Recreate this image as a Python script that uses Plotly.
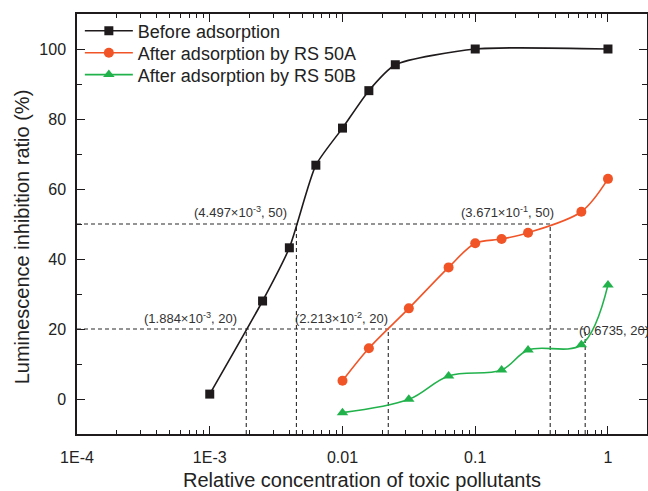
import plotly.graph_objects as go

# ---- data ----
x_before = [0.001, 0.0025, 0.00398, 0.0063, 0.01, 0.0158, 0.025, 0.1, 1.0]
y_before = [1.4, 28.0, 43.2, 66.8, 77.4, 88.1, 95.5, 100.0, 100.0]

x_rs50a = [0.01, 0.0158, 0.0316, 0.063, 0.1, 0.158, 0.25, 0.63, 1.0]
y_rs50a = [5.2, 14.5, 25.9, 37.6, 44.5, 45.7, 47.5, 53.5, 62.9]

x_rs50b = [0.01, 0.0316, 0.063, 0.158, 0.25, 0.63, 1.0]
y_rs50b = [-3.9, -0.1, 6.6, 8.3, 14.0, 15.5, 32.6]

# reference (dashed) points
ref50_x = [4.497e-3, 0.3671]
ref20_x = [1.884e-3, 2.213e-2, 0.6735]
ref_labels_50 = ["(4.497×10<sup>-3</sup>, 50)", "(3.671×10<sup>-1</sup>, 50)"]
ref_labels_20 = ["(1.884×10<sup>-3</sup>, 20)", "(2.213×10<sup>-2</sup>, 20)", "(0.6735, 20)"]

x_tickvals = [1e-4, 1e-3, 1e-2, 1e-1, 1]
x_ticktext = ["1E-4", "1E-3", "0.01", "0.1", "1"]
y_tickvals = [0, 20, 40, 60, 80, 100]

X_MIN, Y_MIN = 1e-4, -10

BLACK = "#1f1b1c"
RED = "#f05427"
GREEN = "#22b24c"
DASH_COLOR = "#2a2a2a"
FONT = "Liberation Sans, Arial, sans-serif"

fig = go.Figure()

# dashed guide lines
dash_style = dict(color=DASH_COLOR, width=1.1, dash="4px,3px")
for xv, yv in [(ref50_x[0], 50), (ref50_x[1], 50), (ref20_x[0], 20), (ref20_x[1], 20), (ref20_x[2], 20)]:
    fig.add_trace(go.Scatter(x=[xv, xv], y=[Y_MIN, yv], mode="lines", line=dash_style,
                             showlegend=False, hoverinfo="skip"))
fig.add_trace(go.Scatter(x=[X_MIN, max(ref50_x)], y=[50, 50], mode="lines", line=dash_style,
                         showlegend=False, hoverinfo="skip"))
fig.add_trace(go.Scatter(x=[X_MIN, max(ref20_x)], y=[20, 20], mode="lines", line=dash_style,
                         showlegend=False, hoverinfo="skip"))

fig.add_trace(go.Scatter(x=x_before, y=y_before, mode="lines+markers", name="Before adsorption",
                         legend="legend",
                         line=dict(color=BLACK, width=1.6, shape="spline", smoothing=0.6),
                         marker=dict(symbol="square", size=9, color=BLACK)))
fig.add_trace(go.Scatter(x=x_rs50a, y=y_rs50a, mode="lines+markers", name="After adsorption by RS 50A",
                         legend="legend2",
                         line=dict(color=RED, width=1.6, shape="spline", smoothing=0.9),
                         marker=dict(symbol="circle", size=10, color=RED)))
fig.add_trace(go.Scatter(x=x_rs50b, y=y_rs50b, mode="lines+markers", name="After adsorption by RS 50B",
                         legend="legend3",
                         line=dict(color=GREEN, width=1.6, shape="spline", smoothing=1.0),
                         marker=dict(symbol="triangle-up", size=10, color=GREEN)))

ann_font = dict(family=FONT, size=13, color="#333333")
annotations = []
annotations.append(dict(x=-2.347, y=50, text=ref_labels_50[0], showarrow=False, xanchor="right",
                        yanchor="middle", xshift=-7, yshift=12, font=ann_font))
annotations.append(dict(x=-0.4352, y=50, text=ref_labels_50[1], showarrow=False, xanchor="right",
                        yanchor="middle", xshift=6, yshift=12, font=ann_font))
annotations.append(dict(x=-2.725, y=20, text=ref_labels_20[0], showarrow=False, xanchor="right",
                        yanchor="middle", xshift=-7, yshift=11, font=ann_font))
annotations.append(dict(x=-1.655, y=20, text=ref_labels_20[1], showarrow=False, xanchor="right",
                        yanchor="middle", xshift=2, yshift=11, font=ann_font))
annotations.append(dict(x=-0.1717, y=20, text=ref_labels_20[2], showarrow=False, xanchor="left",
                        yanchor="middle", xshift=-8, yshift=-1, font=ann_font))
# y-axis title
annotations.append(dict(x=-0.096, y=0.469, xref="paper", yref="paper", text="Luminescence inhibition ratio (%)",
                        showarrow=False, textangle=-90, xanchor="center", yanchor="middle",
                        font=dict(family=FONT, size=20, color="#222222")))

axis_common = dict(showline=True, linecolor=BLACK, linewidth=1.5, mirror="allticks",
                   ticks="inside", ticklen=8, tickwidth=1.3, tickcolor=BLACK,
                   showgrid=False, zeroline=False, automargin=False,
                   tickfont=dict(family=FONT, size=16, color="#222222"))

leg_common = dict(xanchor="left", yanchor="middle", bgcolor="rgba(0,0,0,0)",
                  font=dict(family=FONT, size=18, color="#222222"), itemwidth=48)

fig.update_layout(
    width=648, height=491,
    margin=dict(l=77, r=1, t=14, b=57),
    plot_bgcolor="white", paper_bgcolor="white",
    font=dict(family=FONT, color="#222222"),
    xaxis=dict(type="log", range=[-4, 0.294], tickmode="array", tickvals=x_tickvals, ticktext=x_ticktext,
               title=dict(text="Relative concentration of toxic pollutants",
                          font=dict(size=20, color="#222222"), standoff=14),
               ticklabelstandoff=8,
               minor=dict(dtick="D1", ticks="inside", ticklen=4, tickwidth=1.2, tickcolor=BLACK, showgrid=False),
               **axis_common),
    yaxis=dict(range=[-10, 110], tickmode="array", tickvals=y_tickvals,
               ticklabelstandoff=6,
               minor=dict(dtick=10, ticks="inside", ticklen=5, tickwidth=1.2, tickcolor=BLACK, showgrid=False),
               **axis_common),
    legend=dict(x=0.005, y=0.9595, **leg_common),
    legend2=dict(x=0.005, y=0.907, **leg_common),
    legend3=dict(x=0.005, y=0.855, **leg_common),
    annotations=annotations,
    showlegend=True,
)

fig.write_html("out.html", config={"displayModeBar": False},
               post_script="document.body.style.margin='0';document.body.style.padding='0';")
